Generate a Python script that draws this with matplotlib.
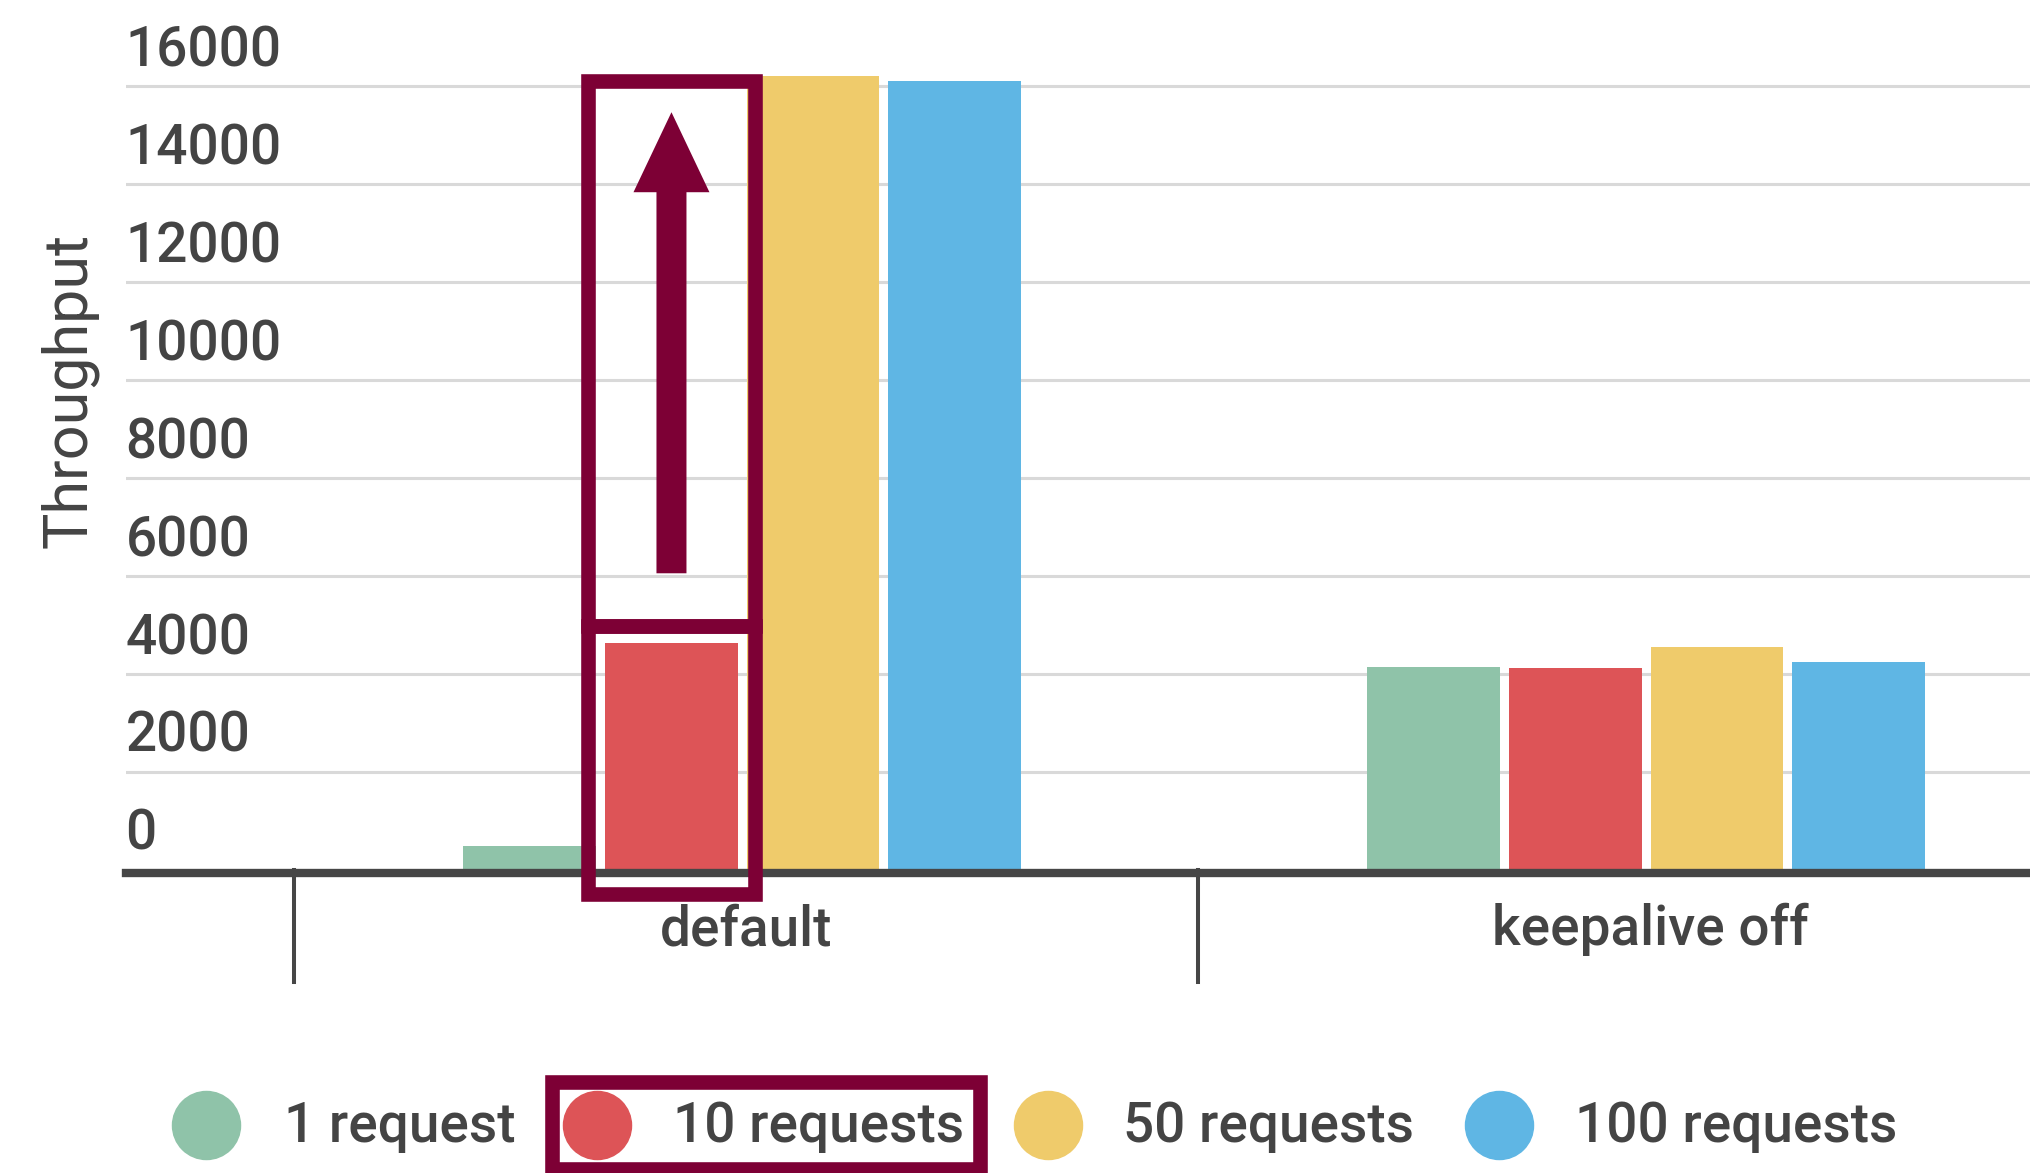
import matplotlib.pyplot as plt
from matplotlib.lines import Line2D
from matplotlib.patches import Rectangle
import numpy as np

# data
groups = ['default', 'keepalive off']
series = ['1 request', '10 requests', '50 requests', '100 requests']
one_req = [500, 4140]
ten_req = [4635, 4120]
fifty_req = [16210, 4560]
hundred_req = [16115, 4245]
yticks = [0, 2000, 4000, 6000, 8000, 10000, 12000, 14000, 16000]

colors = ['#8fc3a9', '#dd5457', '#efcb6b', '#5fb6e4']
text_col = '#444444'
maroon = '#7d0035'

plt.rcParams['font.family'] = ['Roboto', 'DejaVu Sans']

fig = plt.figure(figsize=(20.31, 11.73), dpi=100)
ax = fig.add_axes([0.0618, 0.2583, 0.9382, 0.7417])
ax.set_xlim(-0.6866, 1.4213)
ax.set_ylim(0, 17762)
ax.axis('off')

# gridlines (0 is the axis line)
for t in yticks[1:]:
    ax.axhline(t, color='#d9d9d9', lw=2.2, zorder=0)

# bars
x = np.arange(len(groups))
step = 0.1567
width = 0.1468
shift = -0.0043
values = [one_req, ten_req, fifty_req, hundred_req]
for i, (vals, c) in enumerate(zip(values, colors)):
    ax.bar(x + (i - 1.5) * step + shift, vals, width=width, color=c, zorder=2)

# axis line and group separators
ax.axhline(-55, color='#464646', lw=6, zorder=3, clip_on=False)
for b in [-0.5, 0.5]:
    ax.plot([b, b], [0, -2290], color='#464646', lw=2.9, clip_on=False, zorder=3)

# y tick labels sit above their gridlines
for t in yticks:
    ax.text(-0.6866, t + 410, str(t), ha='left', va='baseline', fontsize=39.5,
            fontweight='medium', color=text_col)

# group labels
for xi, g in zip(x, groups):
    ax.text(xi, -1537, g, ha='center', va='baseline', fontsize=39.5,
            fontweight='medium', color=text_col, clip_on=False)

fig.text(69 / 2031, 1 - 390 / 1173, 'Throughput', rotation=90, ha='center', va='center',
         fontsize=44, fontweight='normal', color=text_col)

# legend
circle_x = [206, 596.6, 1048, 1499]
label_x = [284, 672.6, 1123, 1575]
for cx, lx, lab, c in zip(circle_x, label_x, series, colors):
    fig.add_artist(Line2D([cx / 2031], [1 - 1125 / 1173], marker='o', markersize=49,
                          color=c, transform=fig.transFigure))
    fig.text(lx / 2031, 1 - 1142 / 1173, lab, ha='left', va='baseline', fontsize=39.5,
             fontweight='medium', color=text_col)

# highlight around the 10-requests bar
red_x = x[0] - 0.5 * step + shift
half = 0.0927
ax.add_patch(Rectangle((red_x - half, 4980), 2 * half, 16107 - 4980, fill=False,
                       ec=maroon, lw=10.5, zorder=4, clip_on=False))
ax.add_patch(Rectangle((red_x - half, -486), 2 * half, 4980 + 486, fill=False,
                       ec=maroon, lw=10.5, zorder=4, clip_on=False))
ax.annotate('', xy=(red_x, 15471), xytext=(red_x, 6058),
            arrowprops=dict(arrowstyle='simple,head_length=57.6,head_width=54.7,tail_width=21.6',
                            mutation_scale=1, color=maroon, shrinkA=0, shrinkB=0, lw=0))

# highlight around the legend entry
fig.add_artist(Rectangle((551.5 / 2031, 1 - 1168.5 / 1173), 428 / 2031, 87 / 1173,
                         fill=False, ec=maroon, lw=10.5, transform=fig.transFigure))

fig.savefig('out.png', dpi=100)
